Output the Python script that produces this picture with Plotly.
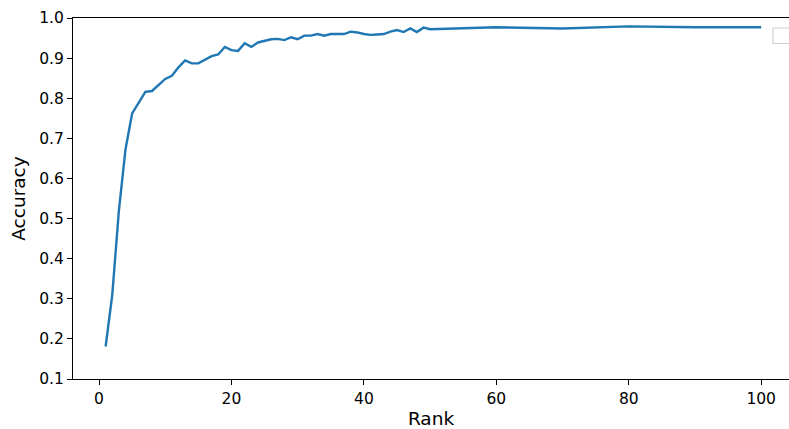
import plotly.graph_objects as go

ranks = list(range(1, 51)) + [60, 70, 80, 90, 100]
accuracy = [0.181, 0.310, 0.520, 0.673, 0.762, 0.789, 0.816, 0.818, 0.833, 0.848,
            0.856, 0.877, 0.894, 0.887, 0.887, 0.895, 0.905, 0.909, 0.928, 0.920,
            0.918, 0.937, 0.928, 0.939, 0.943, 0.947, 0.948, 0.945, 0.952, 0.947,
            0.956, 0.956, 0.960, 0.956, 0.960, 0.960, 0.960, 0.966, 0.964, 0.960,
            0.958, 0.959, 0.960, 0.966, 0.970, 0.965, 0.974, 0.965, 0.976, 0.972,
            0.977, 0.974, 0.979, 0.977, 0.977]
x_ticks = [0, 20, 40, 60, 80, 100]
y_ticks = [0.1, 0.2, 0.3, 0.4, 0.5, 0.6, 0.7, 0.8, 0.9, 1.0]

W, H = 789, 429
ML, MR, MT, MB = 73, 0, 18, 50

fig = go.Figure()
fig.add_trace(go.Scatter(x=ranks, y=accuracy, mode="lines",
                         line=dict(color="#1f77b4", width=2.4), showlegend=False))

font = "DejaVu Sans"
fig.update_layout(
    width=W, height=H,
    margin=dict(l=ML, r=MR, t=MT, b=MB, pad=0, autoexpand=False),
    paper_bgcolor="white", plot_bgcolor="white",
    font=dict(family=font, size=15.5, color="black"),
    showlegend=False,
    xaxis=dict(range=[-3.93, 104.2], tickvals=x_ticks, ticktext=[str(v) for v in x_ticks],
               automargin=False,
               showgrid=False, zeroline=False, showline=True, linecolor="black", linewidth=1.1,
               mirror=True, ticks="outside", ticklen=5, tickwidth=1.1, tickcolor="black",
               tickfont=dict(size=15.5),
               title=dict(text="Rank", font=dict(size=18.5), standoff=8)),
    yaxis=dict(range=[0.1, 1.0], tickvals=y_ticks, ticktext=[f"{v:.1f}" for v in y_ticks],
               automargin=False,
               showgrid=False, zeroline=False, showline=True, linecolor="black", linewidth=1.1,
               ticks="outside", ticklen=5, tickwidth=1.1, tickcolor="black",
               tickfont=dict(size=15.5),
               title=dict(text="Accuracy", font=dict(size=18.5), standoff=8)),
)

# empty legend frame at top right (partially cut off)
pw = W - ML - MR
ph = H - MT - MB
x0 = (773 - ML) / pw
x1 = (795 - ML) / pw
y1 = 1 - (28 - MT) / ph
y0 = 1 - (43.5 - MT) / ph
fig.add_shape(type="rect", xref="paper", yref="paper", x0=x0, x1=x1, y0=y0, y1=y1,
              line=dict(color="#d0d0d0", width=1.2), fillcolor="rgba(255,255,255,0.8)")

fig.write_html("out.html",
               config={"displayModeBar": False},
               post_script="document.body.style.margin='0px';"
                           "document.body.style.overflow='hidden';"
                           "document.documentElement.style.overflow='hidden';")
